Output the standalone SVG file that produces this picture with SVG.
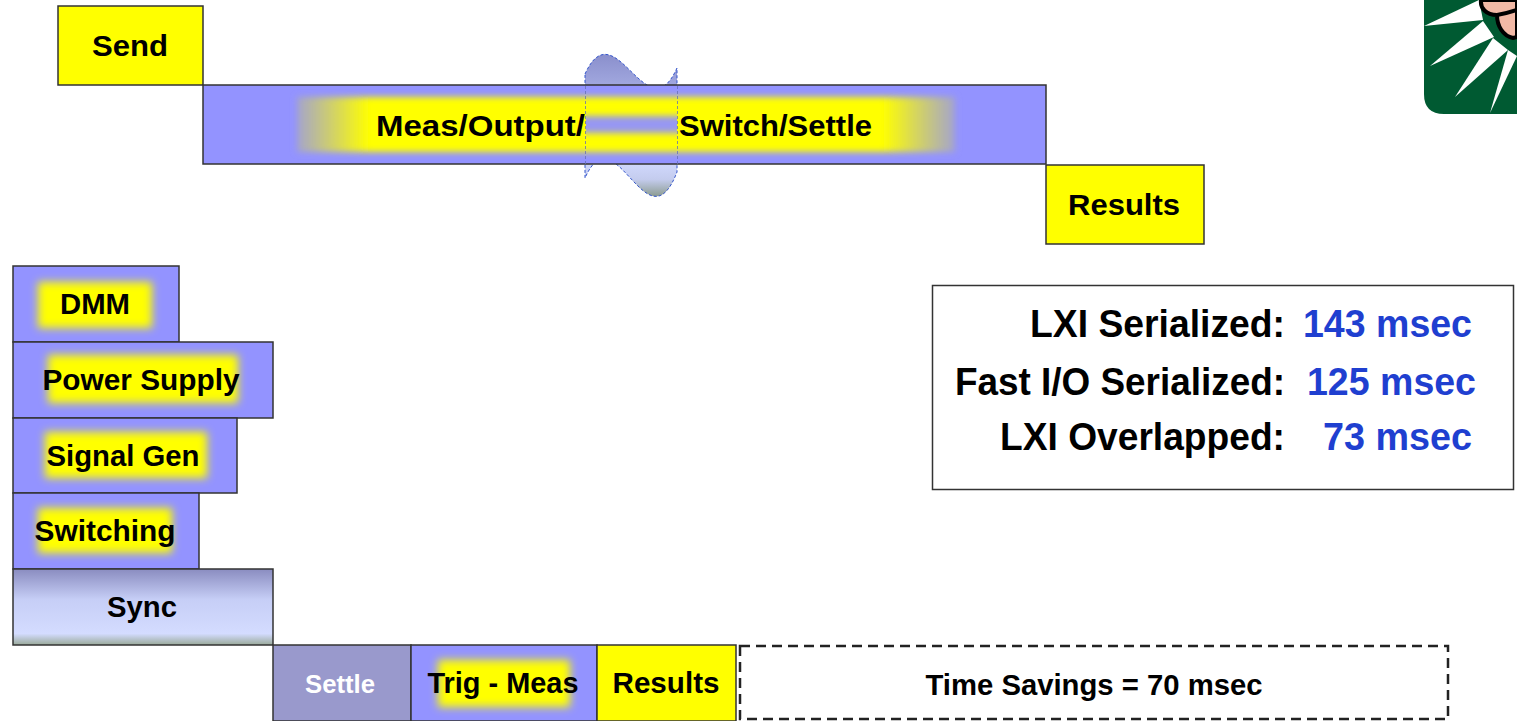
<svg xmlns="http://www.w3.org/2000/svg" width="1517" height="721" viewBox="0 0 1517 721">
  <style>
    .box { stroke: #333; stroke-width: 1.5; }
    .yel { fill: #ffff00; }
    .blu { fill: #9393ff; }
    .lbl { font-family: "Liberation Sans", Arial, sans-serif; font-weight: bold; font-size: 30px; fill: #000; }
    .mid { text-anchor: middle; }
    .leg { font-family: "Liberation Sans", Arial, sans-serif; font-weight: bold; font-size: 38px; }
    .val { fill: #1f3fd0; }
    .glow { fill: #ffff00; filter: url(#soft); }
  </style>
  <defs>
    <filter id="soft" x="-20%" y="-40%" width="140%" height="180%">
      <feGaussianBlur stdDeviation="4.5"/>
    </filter>
    <filter id="softEdge" x="-5%" y="-30%" width="110%" height="160%">
      <feGaussianBlur stdDeviation="3"/>
    </filter>
    <filter id="softBand" x="-10%" y="-50%" width="120%" height="200%">
      <feGaussianBlur stdDeviation="3"/>
    </filter>
    <linearGradient id="barGlow" gradientUnits="userSpaceOnUse" x1="297" y1="0" x2="955" y2="0">
      <stop offset="0" stop-color="#a4a4cc"/>
      <stop offset="0.11" stop-color="#ffff00"/>
      <stop offset="0.89" stop-color="#ffff00"/>
      <stop offset="1" stop-color="#a4a4cc"/>
    </linearGradient>
    <linearGradient id="waveFill" x1="0" y1="0" x2="0" y2="1">
      <stop offset="0" stop-color="#8a8fcc"/>
      <stop offset="0.3" stop-color="#aab1e6"/>
      <stop offset="0.75" stop-color="#d2daff"/>
      <stop offset="0.88" stop-color="#c4ccee"/>
      <stop offset="1" stop-color="#8c9c90"/>
    </linearGradient>
    <linearGradient id="syncFill" x1="0" y1="0" x2="0" y2="1">
      <stop offset="0" stop-color="#8a8cc0"/>
      <stop offset="0.4" stop-color="#c6cef6"/>
      <stop offset="0.85" stop-color="#d4dcff"/>
      <stop offset="1" stop-color="#9aaa9a"/>
    </linearGradient>
    <clipPath id="gapClip">
      <rect x="586" y="86" width="91" height="78"/>
    </clipPath>
  </defs>

  <!-- Logo, top right corner -->
  <g id="logo">
    <path d="M1424,0 H1517 V114 H1444 Q1424,114 1424,94 Z" fill="#005a32"/>
    <polygon points="1424,26 1479,0 1483,20" fill="#fff"/>
    <polygon points="1430,66 1483,21 1494,37" fill="#fff"/>
    <polygon points="1455,97 1493,38 1508,50" fill="#fff"/>
    <polygon points="1490,113 1508,50 1517,56" fill="#fff"/>
    <path d="M1481,0 C1480,8 1486,15 1497,15 C1497,26 1503,36 1513,38 L1517,37 V0 Z" fill="#f2b9a6" stroke="#000" stroke-width="4" stroke-linejoin="round"/>
    <path d="M1497,15 C1504,14 1511,12 1517,10" fill="none" stroke="#000" stroke-width="4"/>
  </g>

  <!-- Serialized sequence -->
  <g id="wave">
    <path d="M585,74 C615,8 647,135 677,68 L677,172 C647,250 615,110 585,178 Z" fill="url(#waveFill)" stroke="#3355cc" stroke-width="1" stroke-dasharray="3 2"/>
  </g>

  <g id="send">
    <rect class="box yel" x="58" y="6" width="145" height="79"/>
    <text class="lbl mid" x="130" y="56" textLength="76" lengthAdjust="spacingAndGlyphs">Send</text>
  </g>

  <g id="measure">
    <rect class="box blu" x="203" y="85" width="843" height="79"/>
    <rect x="297" y="97" width="658" height="55" fill="url(#barGlow)" filter="url(#softEdge)"/>
    <g clip-path="url(#gapClip)">
      <rect x="580" y="116" width="103" height="17" fill="#9797f2" filter="url(#softBand)"/>
    </g>
    <line x1="585.5" y1="86" x2="585.5" y2="164" stroke="#6670b8" stroke-width="0.8" stroke-dasharray="3 2"/>
    <line x1="677.5" y1="86" x2="677.5" y2="164" stroke="#6670b8" stroke-width="0.8" stroke-dasharray="3 2"/>
    <text class="lbl" x="376" y="136" textLength="209" lengthAdjust="spacingAndGlyphs">Meas/Output/</text>
    <text class="lbl" x="679" y="136" textLength="193" lengthAdjust="spacingAndGlyphs">Switch/Settle</text>
  </g>

  <g id="results-top">
    <rect class="box yel" x="1046" y="165" width="158" height="79"/>
    <text class="lbl mid" x="1124" y="215" textLength="112" lengthAdjust="spacingAndGlyphs">Results</text>
  </g>

  <!-- Overlapped instruments -->
  <g id="dmm">
    <rect class="box blu" x="13" y="266" width="166" height="76"/>
    <rect class="glow" x="38" y="282" width="114" height="46"/>
    <text class="lbl mid" x="95" y="314" textLength="70" lengthAdjust="spacingAndGlyphs">DMM</text>
  </g>
  <g id="power-supply">
    <rect class="box blu" x="13" y="342" width="260" height="76"/>
    <rect class="glow" x="48" y="355" width="190" height="48"/>
    <text class="lbl mid" x="141" y="390" textLength="197" lengthAdjust="spacingAndGlyphs">Power Supply</text>
  </g>
  <g id="signal-gen">
    <rect class="box blu" x="13" y="418" width="224" height="75"/>
    <rect class="glow" x="45" y="432" width="162" height="46"/>
    <text class="lbl mid" x="123" y="466" textLength="153" lengthAdjust="spacingAndGlyphs">Signal Gen</text>
  </g>
  <g id="switching">
    <rect class="box blu" x="13" y="493" width="186" height="76"/>
    <rect class="glow" x="38" y="508" width="134" height="45"/>
    <text class="lbl mid" x="105" y="541" textLength="141" lengthAdjust="spacingAndGlyphs">Switching</text>
  </g>
  <g id="sync">
    <rect class="box" x="13" y="569" width="260" height="76" fill="url(#syncFill)"/>
    <text class="lbl mid" x="142" y="617" textLength="70" lengthAdjust="spacingAndGlyphs">Sync</text>
  </g>

  <g id="settle">
    <rect class="box" x="273" y="645" width="138" height="76" fill="#9999cc"/>
    <text class="lbl mid" x="340" y="693" style="fill:#fff;font-size:26px" textLength="70" lengthAdjust="spacingAndGlyphs">Settle</text>
  </g>
  <g id="trig-meas">
    <rect class="box blu" x="411" y="645" width="186" height="76"/>
    <rect class="glow" x="438" y="660" width="132" height="47"/>
    <text class="lbl mid" x="503" y="693" textLength="151" lengthAdjust="spacingAndGlyphs">Trig - Meas</text>
  </g>
  <g id="results-bottom">
    <rect class="box yel" x="597" y="645" width="139" height="76"/>
    <text class="lbl mid" x="666" y="693" textLength="107" lengthAdjust="spacingAndGlyphs">Results</text>
  </g>

  <g id="time-savings">
    <rect x="740" y="646" width="708" height="73" fill="none" stroke="#222" stroke-width="2.5" stroke-dasharray="10 6"/>
    <text class="lbl mid" x="1094" y="695" textLength="337" lengthAdjust="spacingAndGlyphs">Time Savings = 70 msec</text>
  </g>

  <!-- Timing summary -->
  <g id="summary">
    <rect x="932.5" y="285.5" width="581" height="204" fill="#fff" stroke="#333" stroke-width="1.5"/>
    <text class="leg" x="1285" y="337" text-anchor="end" textLength="255" lengthAdjust="spacingAndGlyphs">LXI Serialized:</text>
    <text class="leg val" x="1303" y="337" textLength="169" lengthAdjust="spacingAndGlyphs">143 msec</text>
    <text class="leg" x="1285" y="395" text-anchor="end" textLength="330" lengthAdjust="spacingAndGlyphs">Fast I/O Serialized:</text>
    <text class="leg val" x="1307" y="395" textLength="169" lengthAdjust="spacingAndGlyphs">125 msec</text>
    <text class="leg" x="1285" y="450" text-anchor="end" textLength="285" lengthAdjust="spacingAndGlyphs">LXI Overlapped:</text>
    <text class="leg val" x="1323" y="450" textLength="149" lengthAdjust="spacingAndGlyphs">73 msec</text>
  </g>
</svg>
